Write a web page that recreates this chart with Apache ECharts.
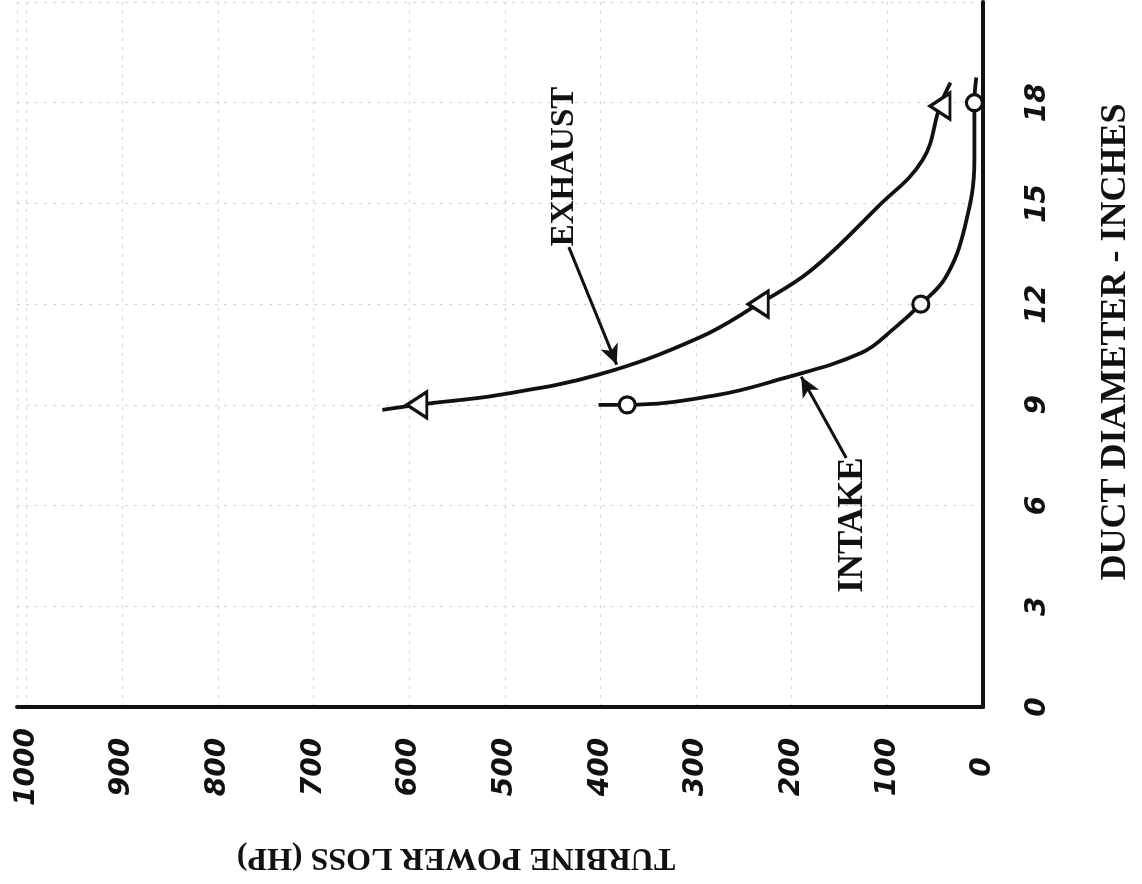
<!DOCTYPE html>
<html>
<head>
<meta charset="utf-8">
<script src="https://cdn.jsdelivr.net/npm/echarts@6/dist/echarts.min.js"></script>
<style>
html,body{margin:0;padding:0;background:#fff;}
#chart{width:1142px;height:884px;}
</style>
</head>
<body>
<div id="chart"></div>
<script>
// Turbine power loss (HP) vs duct diameter (inches)
const exhaustCurve = [[628,8.85],[592,9],[506,9.3],[402,9.9],[297,11.0],[235,12],[180,13.0],[110,14.9],[63,16.3],[45,17.9],[34,18.6]];
const exhaustPoints = [[592,9],[235,12],[45,17.9]];
const intakeCurve = [[402,9.0],[372,9.0],[277,9.3],[214,9.75],[127,10.55],[92,11.3],[65,12.0],[39,12.8],[19,14.3],[9,16.3],[9,18],[7,18.75]];
const intakePoints = [[372,9],[65,12],[9,18]];
const powerTicks = [0,100,200,300,400,500,600,700,800,900,1000];
const diameterTicks = [0,3,6,9,12,15,18];
const xTitle = 'TURBINE POWER LOSS (HP)';
const yTitle = 'DUCT DIAMETER - INCHES';

const ink = '#111';
const tickFont = {fontFamily:'DejaVu Sans', fontWeight:'bold', fontStyle:'italic', fontSize:28, color:ink};
const titleFont = {fontFamily:'Liberation Serif', fontWeight:'bold', color:ink};

const chart = echarts.init(document.getElementById('chart'), null, {renderer:'canvas'});
chart.setOption({
  backgroundColor:'#fff',
  animation:false,
  grid:{left:17, right:157, top:2, bottom:177, containLabel:false},
  xAxis:{
    type:'value', inverse:true, min:0, max:1010, interval:100,
    name:xTitle, nameLocation:'middle', nameRotate:180, nameGap:134, nameMoveOverlap:false,
    nameTextStyle:Object.assign({fontSize:32, padding:[0,0,0,88]}, titleFont),
    axisLine:{show:true, onZero:false, lineStyle:{color:ink, width:4}},
    axisTick:{show:false},
    axisLabel:Object.assign({rotate:90, align:'center', verticalAlign:'middle', margin:60, showMaxLabel:false,
      formatter:v => powerTicks.indexOf(v) >= 0 ? String(v) : ''}, tickFont),
    splitLine:{show:true, lineStyle:{color:'#d4d4d4', width:1, type:[3,6]}}
  },
  yAxis:{
    type:'value', position:'right', min:0, max:21, interval:3,
    name:yTitle, nameLocation:'middle', nameRotate:90, nameGap:115, nameMoveOverlap:false,
    nameTextStyle:Object.assign({fontSize:36, padding:[0,0,0,25]}, titleFont),
    axisLine:{show:true, onZero:false, lineStyle:{color:ink, width:4}},
    axisTick:{show:false},
    axisLabel:Object.assign({rotate:90, align:'center', verticalAlign:'middle', margin:55, showMaxLabel:false,
      formatter:v => diameterTicks.indexOf(v) >= 0 ? String(v) : ''}, tickFont),
    splitLine:{show:true, lineStyle:{color:'#d4d4d4', width:1, type:[3,6]}}
  },
  series:[
    {
      name:'EXHAUST curve', type:'line', data:exhaustCurve, smooth:0.4, showSymbol:false, symbol:'none',
      lineStyle:{color:ink, width:3.8, opacity:1}, z:3,
      markLine:{silent:true, symbol:['none','arrow'], symbolSize:[14,20], label:{show:false},
        lineStyle:{color:ink, width:3, type:'solid', opacity:1},
        data:[[{coord:[433,13.7]},{coord:[383,10.2]}]]}
    },
    {
      name:'INTAKE curve', type:'line', data:intakeCurve, smooth:0.4, showSymbol:false, symbol:'none',
      lineStyle:{color:ink, width:3.8, opacity:1}, z:3,
      markLine:{silent:true, symbol:['none','arrow'], symbolSize:[14,20], label:{show:false},
        lineStyle:{color:ink, width:3, type:'solid', opacity:1},
        data:[[{coord:[143,7.42]},{coord:[190,9.84]}]]}
    },
    {
      name:'EXHAUST', type:'scatter', data:exhaustPoints, symbol:'triangle', symbolSize:[26,20], symbolRotate:90,
      itemStyle:{color:'#fff', borderColor:ink, borderWidth:3.2, opacity:1}, z:5
    },
    {
      name:'INTAKE', type:'scatter', data:intakePoints, symbol:'circle', symbolSize:16,
      itemStyle:{color:'#fff', borderColor:ink, borderWidth:3.2, opacity:1}, z:5
    },
    {
      name:'labels', type:'scatter', symbolSize:0, silent:true, z:6,
      itemStyle:{opacity:1},
      data:[
        {value:[438,16.1], label:{formatter:'EXHAUST', fontSize:33}},
        {value:[136,5.42], label:{formatter:'INTAKE', fontSize:35}}
      ],
      label:Object.assign({show:true, position:'inside', rotate:90, align:'center', verticalAlign:'middle', opacity:1}, titleFont)
    }
  ]
});
</script>
</body>
</html>
